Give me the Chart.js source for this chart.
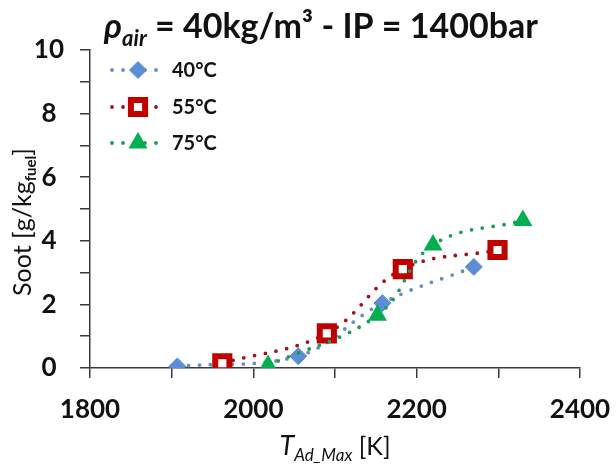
<!DOCTYPE html>
<html><head><meta charset="utf-8">
<script src="https://cdn.jsdelivr.net/npm/chart.js@4/dist/chart.umd.min.js"></script>
<style>html,body{margin:0;padding:0;background:#fff}#wrap{width:616px;height:466px;position:relative}</style>
</head><body><div id="wrap"><canvas id="c" width="616" height="466"></canvas></div>
<script>
// ---- data ----
const seriesNames = ['40°C', '55°C', '75°C'];
const tad40  = [1907, 2055, 2158, 2270];
const soot40 = [0.05, 0.37, 2.04, 3.18];
const tad55  = [1962, 2090, 2183, 2299];
const soot55 = [0.15, 1.09, 3.11, 3.71];
const tad75  = [2018, 2152, 2220, 2330];
const soot75 = [0.08, 1.66, 3.87, 4.64];
const xTickLabels = [1800, 2000, 2200, 2400];
const yTickLabels = [0, 2, 4, 6, 8, 10];
const titleParts = ['ρ', 'air', ' = 40kg/m³ - IP = 1400bar'];
const yTitleParts = ['Soot [g/kg', 'fuel', ']'];
const xTitleParts = ['T', 'Ad_Max', ' [K]'];

const FONT = 'Lato';
const pts = (xs, ys) => xs.map((x, i) => ({x, y: ys[i]}));

const styles = [
  {line: '#6a8cbc', fill: '#5b8ed6', border: '#5b8ed6', pointStyle: 'rectRot', radius: 8.5, bw: 1},
  {line: '#a3101f', fill: '#ffffff', border: '#c00000', pointStyle: 'rect', radius: 10, bw: 6},
  {line: '#1f9a58', fill: '#00b050', border: '#00b050', pointStyle: 'triangle', radius: 9, bw: 2}
];
const allData = [pts(tad40, soot40), pts(tad55, soot55), pts(tad75, soot75)];

const datasets = allData.map((d, i) => ({
  label: seriesNames[i],
  data: d,
  showLine: true,
  tension: 0.4,
  borderColor: styles[i].line,
  borderWidth: 3.8,
  borderDash: [0, 11],
  borderCapStyle: 'round',
  pointStyle: styles[i].pointStyle,
  pointRadius: styles[i].radius,
  pointBackgroundColor: styles[i].fill,
  pointBorderColor: styles[i].border,
  pointBorderWidth: styles[i].bw,
  order: 3 - i
}));

function drawRuns(ctx, runs, cx, baseline) {
  let total = 0;
  runs.forEach(r => { ctx.font = r.font; r.w = ctx.measureText(r.t).width; total += r.w; });
  let x = cx - total / 2;
  ctx.textBaseline = 'alphabetic';
  ctx.textAlign = 'left';
  runs.forEach(r => { ctx.font = r.font; ctx.fillText(r.t, x, baseline + (r.dy || 0)); x += r.w; });
}

const decor = {
  id: 'decor',
  afterDraw(chart) {
    const ctx = chart.ctx;
    ctx.save();
    ctx.fillStyle = '#111';
    // title
    drawRuns(ctx, [
      {t: titleParts[0], font: `italic bold 34px ${FONT}`},
      {t: titleParts[1], font: `italic bold 22px ${FONT}`, dy: 8},
      {t: titleParts[2], font: `bold 34px ${FONT}`}
    ], 321, 38);
    // x title
    drawRuns(ctx, [
      {t: xTitleParts[0], font: `italic 27px ${FONT}`},
      {t: xTitleParts[1], font: `italic 17px ${FONT}`, dy: 6},
      {t: xTitleParts[2], font: `25px ${FONT}`}
    ], 335, 455);
    // y title
    ctx.save();
    ctx.translate(31, 222);
    ctx.rotate(-Math.PI / 2);
    drawRuns(ctx, [
      {t: yTitleParts[0], font: `25px ${FONT}`},
      {t: yTitleParts[1], font: `bold 15px ${FONT}`, dy: 5},
      {t: yTitleParts[2], font: `25px ${FONT}`}
    ], 0, 0);
    ctx.restore();
    // legend
    const rows = [70, 107, 143];
    chart.data.datasets.forEach((ds, i) => {
      const y = rows[i];
      ctx.save();
      ctx.strokeStyle = ds.borderColor;
      ctx.lineWidth = ds.borderWidth;
      ctx.lineCap = 'round';
      ctx.setLineDash(ds.borderDash);
      ctx.beginPath();
      ctx.moveTo(112, y); ctx.lineTo(164, y);
      ctx.stroke();
      ctx.restore();
      ctx.save();
      ctx.fillStyle = ds.pointBackgroundColor;
      ctx.strokeStyle = ds.pointBorderColor;
      ctx.lineWidth = ds.pointBorderWidth;
      Chart.helpers.drawPoint(ctx, {pointStyle: ds.pointStyle, radius: ds.pointRadius, borderWidth: ds.pointBorderWidth, rotation: 0}, 138, y);
      ctx.restore();
      ctx.fillStyle = '#111';
      ctx.font = `bold 20px ${FONT}`;
      ctx.textBaseline = 'middle';
      ctx.textAlign = 'left';
      ctx.fillText(ds.label, 172, y + 1);
    });
    ctx.restore();
  }
};

new Chart(document.getElementById('c'), {
  type: 'scatter',
  data: {datasets},
  options: {
    responsive: false,
    animation: false,
    devicePixelRatio: 1,
    layout: {padding: {top: 50, right: 36, left: 0, bottom: 0}},
    plugins: {legend: {display: false}, title: {display: false}, tooltip: {enabled: false}},
    scales: {
      x: {
        type: 'linear', min: 1800, max: 2400,
        afterFit: s => { s.height = 98; s.paddingLeft = 0; s.paddingRight = 0; },
        border: {display: true, color: '#3a3a3a', width: 1.5},
        grid: {drawOnChartArea: false, drawTicks: true, tickLength: 10, color: '#3a3a3a', lineWidth: 1.5},
        ticks: {
          stepSize: 100, autoSkip: false, maxRotation: 0, padding: 16, color: '#111',
          font: {family: FONT, size: 26, weight: 'bold'},
          callback: v => xTickLabels.includes(v) ? String(v) : ''
        }
      },
      y: {
        min: 0, max: 10,
        afterFit: s => { s.width = 90; s.paddingTop = 0; s.paddingBottom = 0; },
        border: {display: true, color: '#3a3a3a', width: 1.5},
        grid: {drawOnChartArea: false, drawTicks: true, tickLength: 10, color: '#3a3a3a', lineWidth: 1.5},
        ticks: {
          stepSize: 1, autoSkip: false, padding: 16, crossAlign: 'center', color: '#111',
          font: {family: FONT, size: 26, weight: 'bold'},
          callback: v => yTickLabels.includes(v) ? String(v) : ''
        }
      }
    }
  },
  plugins: [decor]
});
</script></body></html>
